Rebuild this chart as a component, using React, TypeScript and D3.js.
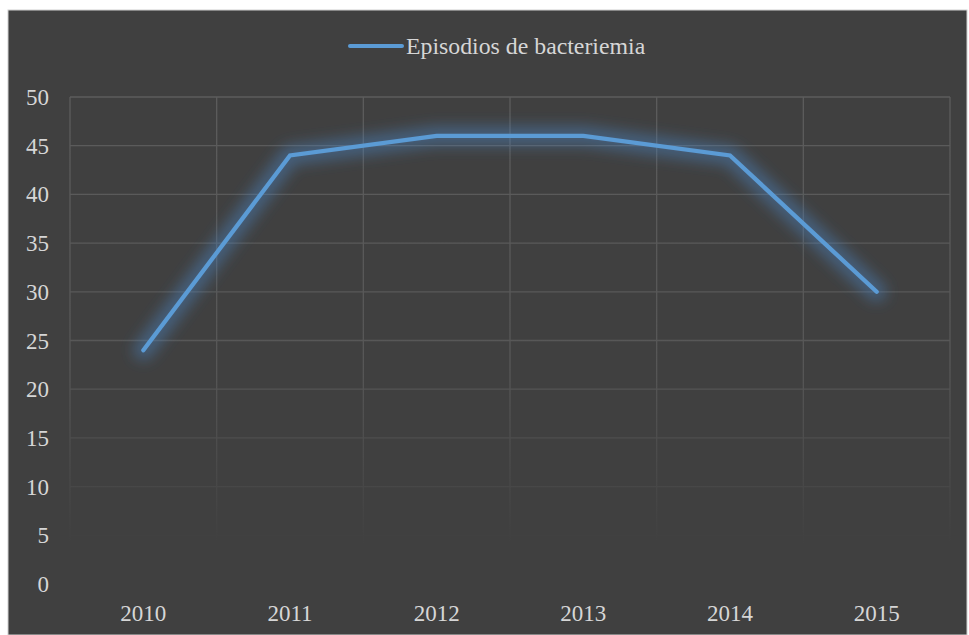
import React, { useEffect, useRef } from "react";
import * as d3 from "d3";

const years = ["2010", "2011", "2012", "2013", "2014", "2015"];
const episodios = [24, 44, 46, 46, 44, 30];
const yTicks = [0, 5, 10, 15, 20, 25, 30, 35, 40, 45, 50];
const seriesName = "Episodios de bacteriemia";

export default function App() {
  const svgRef = useRef<SVGSVGElement | null>(null);

  useEffect(() => {
    document.body.style.margin = "0";
    const w = 969;
    const h = 635;
    const m = { left: 70, right: 19, top: 97, bottom: 51 };
    const font = "'Liberation Serif', 'Times New Roman', serif";
    const txt = "#d6d6d6";

    const svg = d3.select(svgRef.current);
    svg.selectAll("*").remove();
    svg.attr("width", w).attr("height", h);

    // background
    svg.append("rect").attr("width", w).attr("height", h).attr("fill", "#ffffff");
    svg.append("rect")
      .attr("x", 8).attr("y", 10).attr("width", w - 10).attr("height", h - 10)
      .attr("fill", "#404040").attr("stroke", "#d0d0d0").attr("stroke-width", 1);

    const defs = svg.append("defs");
    const grad = defs.append("linearGradient")
      .attr("id", "gridFade")
      .attr("gradientUnits", "userSpaceOnUse")
      .attr("x1", 0).attr("x2", 0)
      .attr("y1", m.top).attr("y2", h - m.bottom);
    grad.append("stop").attr("offset", "0%").attr("stop-color", "#5c5c5c");
    grad.append("stop").attr("offset", "55%").attr("stop-color", "#575757");
    grad.append("stop").attr("offset", "92%").attr("stop-color", "#404040");

    const glow = defs.append("filter").attr("id", "glow")
      .attr("x", "-20%").attr("y", "-30%").attr("width", "140%").attr("height", "160%");
    glow.append("feGaussianBlur").attr("stdDeviation", 7);

    const x = d3.scaleBand().domain(years).range([m.left, w - m.right]);
    const y = d3.scaleLinear().domain([0, 50]).range([h - m.bottom, m.top]);

    // gridlines
    const grid = svg.append("g").attr("stroke", "url(#gridFade)").attr("stroke-width", 1.3);
    grid.selectAll("line.h")
      .data(yTicks)
      .enter()
      .append("line")
      .attr("x1", m.left).attr("x2", w - m.right)
      .attr("y1", d => y(d)).attr("y2", d => y(d));
    const vEdges = [...years.map(d => x(d) as number), w - m.right];
    grid.selectAll("line.v")
      .data(vEdges)
      .enter()
      .append("line")
      .attr("x1", d => d).attr("x2", d => d)
      .attr("y1", m.top).attr("y2", h - m.bottom);

    // y labels
    svg.append("g")
      .selectAll("text")
      .data(yTicks)
      .enter()
      .append("text")
      .attr("x", 49)
      .attr("y", d => y(d))
      .attr("dy", "0.35em")
      .attr("text-anchor", "end")
      .attr("font-family", font)
      .attr("font-size", 23)
      .attr("fill", txt)
      .text(d => d);

    // x labels
    svg.append("g")
      .selectAll("text")
      .data(years)
      .enter()
      .append("text")
      .attr("x", d => (x(d) as number) + x.bandwidth() / 2)
      .attr("y", 621)
      .attr("text-anchor", "middle")
      .attr("font-family", font)
      .attr("font-size", 23)
      .attr("fill", txt)
      .text(d => d);

    // line
    const line = d3.line<number>()
      .x((d, i) => (x(years[i]) as number) + x.bandwidth() / 2)
      .y(d => y(d));

    svg.append("path")
      .datum(episodios)
      .attr("d", line)
      .attr("fill", "none")
      .attr("stroke", "#4a86c4")
      .attr("stroke-opacity", 0.45)
      .attr("stroke-width", 20)
      .attr("stroke-linejoin", "round")
      .attr("stroke-linecap", "round")
      .attr("filter", "url(#glow)");

    svg.append("path")
      .datum(episodios)
      .attr("d", line)
      .attr("fill", "none")
      .attr("stroke", "#5b9bd5")
      .attr("stroke-width", 4.3)
      .attr("stroke-linejoin", "miter")
      .attr("stroke-linecap", "round");

    // legend
    const lg = svg.append("g");
    lg.append("line")
      .attr("x1", 350).attr("x2", 402).attr("y1", 46).attr("y2", 46)
      .attr("stroke", "#5b9bd5").attr("stroke-width", 4).attr("stroke-linecap", "round");
    lg.append("text")
      .attr("x", 406).attr("y", 46).attr("dy", "0.33em")
      .attr("font-family", font)
      .attr("font-size", 23.8)
      .attr("fill", txt)
      .text(seriesName);
  }, []);

  return (
    <div>
      <svg ref={svgRef}></svg>
    </div>
  );
}
